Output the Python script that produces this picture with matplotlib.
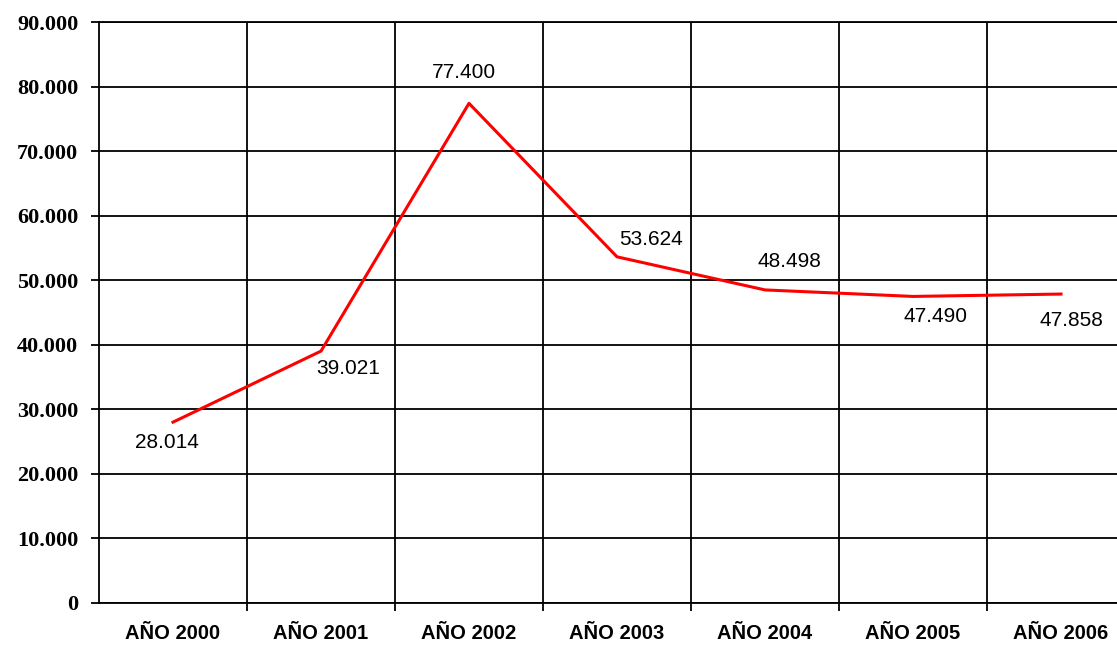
import matplotlib.pyplot as plt
import numpy as np
from matplotlib.ticker import FuncFormatter, MultipleLocator

anios = ["AÑO 2000", "AÑO 2001", "AÑO 2002", "AÑO 2003", "AÑO 2004", "AÑO 2005", "AÑO 2006"]
valores = [28014, 39021, 77400, 53624, 48498, 47490, 47858]
etiquetas = ["28.014", "39.021", "77.400", "53.624", "48.498", "47.490", "47.858"]
# desplazamiento de cada etiqueta en pixeles
desp = [(-6, -20), (27, -17), (-5, 31), (34, 17), (24, 28), (23, -20), (10, -26)]

fig = plt.figure(figsize=(11.17, 6.45), dpi=100)
ax = fig.add_axes([99 / 1117, 42 / 645, 1036 / 1117, 581 / 645])

x = np.arange(len(anios))
ax.plot(x, valores, color="#ff0000", linewidth=2.2, zorder=3)

for xi, v, t, d in zip(x, valores, etiquetas, desp):
    ax.annotate(t, (xi, v), xytext=d, textcoords="offset pixels",
                ha="center", va="center", fontsize=15, family="Liberation Sans")

ax.set_xlim(-0.5, 6.5)
ax.set_ylim(0, 90000)
ax.yaxis.set_major_locator(MultipleLocator(10000))
ax.yaxis.set_major_formatter(FuncFormatter(lambda v, p: f"{int(v):,}".replace(",", ".")))

ax.set_xticks(x)
ax.set_xticklabels(anios, fontsize=14.5, fontweight="bold", family="Liberation Sans")
ax.set_xticks(x[:-1] + 0.5, minor=True)
ax.tick_params(axis="x", which="major", length=0, pad=15)
ax.tick_params(axis="x", which="minor", length=6, width=1.3, direction="out")
ax.tick_params(axis="y", length=6, width=1.3, direction="out", pad=9)
for lab in ax.get_yticklabels():
    lab.set_fontsize(16)
    lab.set_fontweight("bold")
    lab.set_family("Liberation Serif")

ax.grid(True, axis="y", which="major", color="black", linewidth=1.3)
ax.grid(True, axis="x", which="minor", color="black", linewidth=1.3)
for s in ax.spines.values():
    s.set_linewidth(1.3)
ax.set_axisbelow(True)

plt.savefig("out.png", dpi=100)
